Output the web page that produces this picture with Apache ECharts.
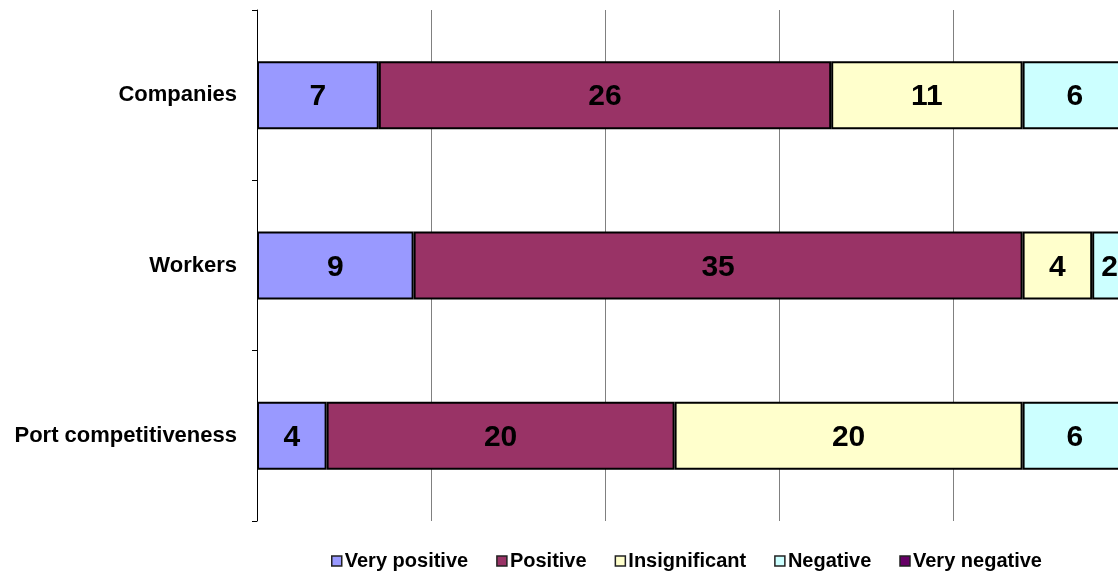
<!DOCTYPE html>
<html>
<head>
<meta charset="utf-8">
<script src="https://cdn.jsdelivr.net/npm/echarts@6/dist/echarts.min.js"></script>
<style>
html,body{margin:0;padding:0;background:#fff;overflow:hidden;}
#chart{width:1127px;height:573px;}
</style>
</head>
<body>
<div id="chart"></div>
<script>
var categories = ['Companies', 'Workers', 'Port competitiveness'];
var seriesNames = ['Very positive', 'Positive', 'Insignificant', 'Negative', 'Very negative'];
var veryPositive = [7, 9, 4];
var positive = [26, 35, 20];
var insignificant = [11, 4, 20];
var negative = [6, 2, 6];
var veryNegative = [0, 0, 0];
var colors = ['#9999FF', '#993366', '#FFFFCC', '#CCFFFF', '#660066'];

// the original chart runs past the right edge of the picture, so the canvas is a bit wider than the window
var chart = echarts.init(document.getElementById('chart'));
var allData = [veryPositive, positive, insignificant, negative, veryNegative];
var series = [];
for (var i = 0; i < seriesNames.length; i++) {
	series.push({
		name: seriesNames[i],
		type: 'bar',
		stack: 'all',
		barWidth: 68,
		data: allData[i],
		itemStyle: {color: colors[i], borderColor: '#000', borderWidth: 2},
		label: {
			show: true,
			position: 'inside',
			offset: [0, 2],
			color: '#000',
			fontFamily: 'Liberation Sans',
			fontWeight: 'bold',
			fontSize: 30,
			formatter: function (p) { return p.value ? p.value : ''; }
		}
	});
}

chart.setOption({
	animation: false,
	color: colors,
	grid: {left: 257, top: 10, bottom: 52, right: 0},
	legend: {
		top: 546,
		left: 326,
		icon: 'rect',
		itemWidth: 10,
		itemHeight: 10,
		itemGap: 28,
		itemStyle: {borderColor: '#222', borderWidth: 1.5},
		textStyle: {fontFamily: 'Liberation Sans', fontWeight: 'bold', fontSize: 20, color: '#000', padding: [0, 0, 0, -2]},
		data: seriesNames
	},
	xAxis: {
		type: 'value',
		min: 0,
		max: 50,
		interval: 10,
		axisLabel: {show: false},
		axisLine: {show: false},
		axisTick: {show: false},
		splitLine: {show: true, lineStyle: {color: '#808080', width: 1}}
	},
	yAxis: {
		type: 'category',
		inverse: true,
		data: categories,
		axisLine: {show: true, lineStyle: {color: '#000', width: 1}},
		axisTick: {show: true, length: 5, lineStyle: {color: '#000'}},
		axisLabel: {fontFamily: 'Liberation Sans', fontWeight: 'bold', fontSize: 22, color: '#000', margin: 20}
	},
	series: series
});
</script>
</body>
</html>
